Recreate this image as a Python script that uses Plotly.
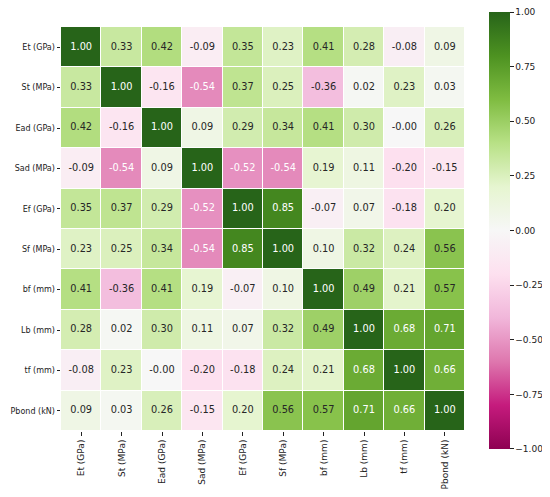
import plotly.graph_objects as go

labels = ["Et (GPa)", "St (MPa)", "Ead (GPa)", "Sad (MPa)", "Ef (GPa)",
          "Sf (MPa)", "bf (mm)", "Lb (mm)", "tf (mm)", "Pbond (kN)"]

corr = [
    [1.00, 0.33, 0.42, -0.09, 0.35, 0.23, 0.41, 0.28, -0.08, 0.09],
    [0.33, 1.00, -0.16, -0.54, 0.37, 0.25, -0.36, 0.02, 0.23, 0.03],
    [0.42, -0.16, 1.00, 0.09, 0.29, 0.34, 0.41, 0.30, -0.00, 0.26],
    [-0.09, -0.54, 0.09, 1.00, -0.52, -0.54, 0.19, 0.11, -0.20, -0.15],
    [0.35, 0.37, 0.29, -0.52, 1.00, 0.85, -0.07, 0.07, -0.18, 0.20],
    [0.23, 0.25, 0.34, -0.54, 0.85, 1.00, 0.10, 0.32, 0.24, 0.56],
    [0.41, -0.36, 0.41, 0.19, -0.07, 0.10, 1.00, 0.49, 0.21, 0.57],
    [0.28, 0.02, 0.30, 0.11, 0.07, 0.32, 0.49, 1.00, 0.68, 0.71],
    [-0.08, 0.23, -0.00, -0.20, -0.18, 0.24, 0.21, 0.68, 1.00, 0.66],
    [0.09, 0.03, 0.26, -0.15, 0.20, 0.56, 0.57, 0.71, 0.66, 1.00],
]

cbar_ticks = [1.0, 0.75, 0.5, 0.25, 0.0, -0.25, -0.5, -0.75, -1.0]

# matplotlib PiYG (ColorBrewer 11 class)
piyg = ['rgb(142,1,82)', 'rgb(197,27,125)', 'rgb(222,119,174)', 'rgb(241,182,218)',
        'rgb(253,224,239)', 'rgb(247,247,247)', 'rgb(230,245,208)', 'rgb(184,225,134)',
        'rgb(127,188,65)', 'rgb(77,146,33)', 'rgb(39,100,25)']
colorscale = [[i / 10, c] for i, c in enumerate(piyg)]

font = "DejaVu Sans, Arial, sans-serif"
n = len(labels)

# ticks exactly at the ends can get dropped by the colorbar, nudge them inside
cb_vals = [max(min(v, 0.999), -0.999) for v in cbar_ticks]
cb_text = [f"{v:.2f}".replace("-", "\u2212") for v in cbar_ticks]

fig = go.Figure()
fig.add_trace(go.Heatmap(
    z=corr, x=labels, y=labels,
    colorscale=colorscale, zmin=-1, zmax=1,
    xgap=1, ygap=1, hoverongaps=False,
    colorbar=dict(
        x=1.06, xanchor="left", y=0.4963, yanchor="middle",
        thickness=21, thicknessmode="pixels",
        len=437, lenmode="pixels",
        outlinewidth=0, xpad=0, ypad=0,
        tickvals=cb_vals, ticktext=cb_text,
        ticks="outside", ticklen=4, tickcolor="#222",
        ticklabeloverflow="allow",
        tickfont=dict(family=font, size=9, color="#222"),
    ),
))

# annotation text: white on dark cells, dark elsewhere
xs, ys, txt, cols = [], [], [], []
for i, row in enumerate(corr):
    for j, v in enumerate(row):
        xs.append(labels[j])
        ys.append(labels[i])
        txt.append(f"{v:.2f}")
        cols.append("white" if abs(v) >= 0.6 or v <= -0.5 else "#262626")

fig.add_trace(go.Scatter(
    x=xs, y=ys, mode="text", text=txt,
    textfont=dict(family=font, size=9.8, color=cols),
    hoverinfo="skip", showlegend=False,
))

fig.update_xaxes(
    automargin=False, range=[-0.5, n - 0.5],
    ticks="outside", ticklen=4, tickcolor="#222", tickangle=-90,
    tickfont=dict(family=font, size=9, color="#222"),
    showgrid=False, zeroline=False,
)
fig.update_yaxes(
    automargin=False, range=[n - 0.5, -0.5],
    ticks="outside", ticklen=3.5, tickcolor="#222",
    tickfont=dict(family=font, size=8, color="#222"),
    showgrid=False, zeroline=False,
)
# page body adds an 8px offset, so margins are shifted to compensate
fig.update_layout(
    width=550, height=497,
    margin=dict(l=53, r=93, t=19, b=74, autoexpand=False),
    plot_bgcolor="white", paper_bgcolor="white",
    showlegend=False,
)

fig.write_html("out.html")
